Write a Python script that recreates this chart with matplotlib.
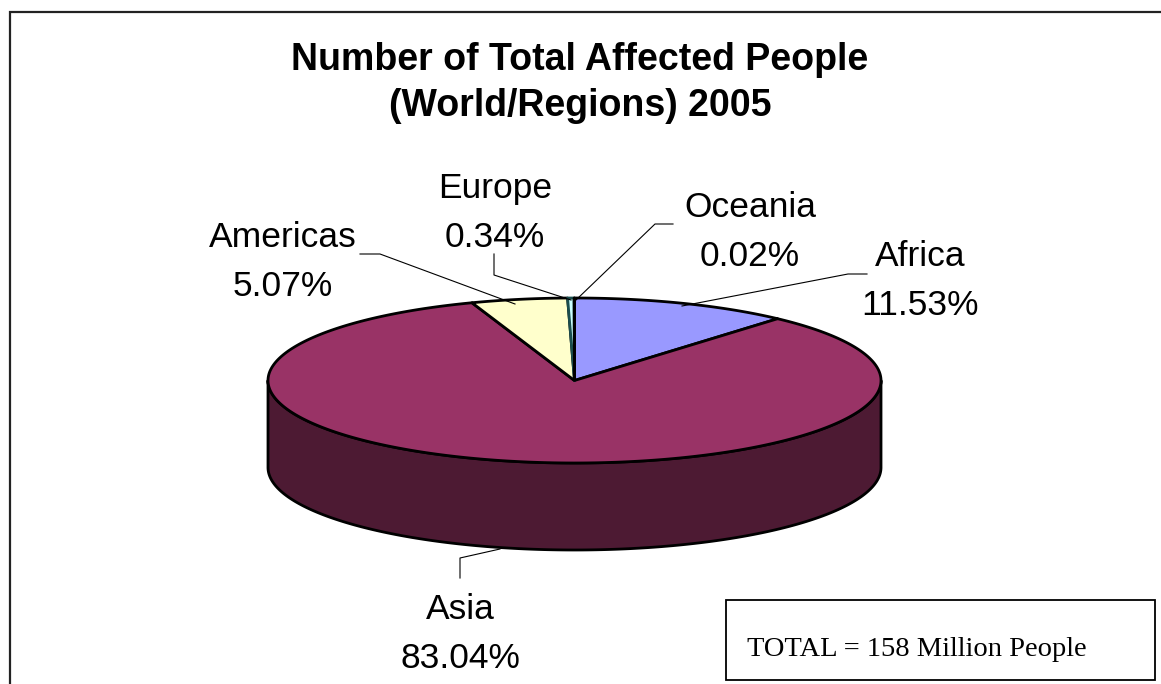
import numpy as np
import matplotlib.pyplot as plt
from matplotlib.patches import Polygon, Rectangle

# 2005 affected people by region, share of world total (%)
regions = ['Africa', 'Asia', 'Americas', 'Europe', 'Oceania']
shares = [11.53, 83.04, 5.07, 0.34, 0.02]
colors = ['#9999FF', '#993366', '#FFFFCC', '#CCFFFF', '#660066']
title = 'Number of Total Affected People\n(World/Regions) 2005'
total_text = 'TOTAL = 158 Million People'

W, H = 1161, 684
fig = plt.figure(figsize=(W / 100, H / 100), dpi=100)
ax = fig.add_axes([0, 0, 1, 1])
ax.set_xlim(0, W)
ax.set_ylim(H, 0)
ax.axis('off')

# pie geometry (pixel space, y pointing down)
cx, cy = 574.5, 380.5
a, b = 306.5, 82.5
depth = 87


def rim(t):
    # t in degrees, clockwise from 12 o'clock
    r = np.radians(t)
    return cx + a * np.sin(r), cy - b * np.cos(r)


def darker(c, f=0.5):
    rgb = np.array(plt.matplotlib.colors.to_rgb(c))
    return tuple(rgb * f)


edges = np.concatenate([[0], np.cumsum(shares)]) / sum(shares) * 360

# side wall, only the front half (90..270 deg) shows
for i in range(len(regions)):
    t0, t1 = max(edges[i], 90), min(edges[i + 1], 270)
    if t1 <= t0:
        continue
    t = np.linspace(t0, t1, 200)
    x, y = rim(t)
    pts = np.vstack([np.column_stack([x, y]),
                     np.column_stack([x[::-1], y[::-1] + depth])])
    ax.add_patch(Polygon(pts, closed=True, facecolor=darker(colors[i]),
                         edgecolor='black', lw=2.0, joinstyle='round', zorder=1))

# top face wedges
for i in range(len(regions)):
    t = np.linspace(edges[i], edges[i + 1], max(int((edges[i + 1] - edges[i]) * 3), 2))
    x, y = rim(t)
    pts = np.vstack([[cx, cy], np.column_stack([x, y])])
    ec = '#1a4d4d' if regions[i] == 'Europe' else 'black'
    ax.add_patch(Polygon(pts, closed=True, facecolor=colors[i],
                         edgecolor=ec, lw=2.0, joinstyle='round', zorder=2))

# labels with leader lines
lbl_font = dict(family=['Liberation Sans', 'DejaVu Sans'], fontsize=25.5,
                ha='center', va='center', linespacing=1.58)
label_pos = {'Africa': (920, 281), 'Asia': (460, 634), 'Americas': (283, 262),
             'Europe': (495, 213), 'Oceania': (750, 232)}
leaders = {'Africa': [(867, 274), (848, 274), (682, 306)],
           'Asia': [(460, 578), (460, 558), (500, 549)],
           'Americas': [(360, 254), (380, 254), (515, 304)],
           'Europe': [(494, 254), (494, 275), (571, 300)],
           'Oceania': [(673, 224), (655, 224), (576, 300)]}
for name, s in zip(regions, shares):
    x, y = label_pos[name]
    ax.text(x, y, f'{name}\n{s:.2f}%', zorder=5, **lbl_font)
    lx, ly = zip(*leaders[name])
    ax.plot(lx, ly, color='black', lw=0.8, zorder=4)

ax.text(580, 83, title, ha='center', va='center', fontsize=27,
        family=['Liberation Sans', 'DejaVu Sans'],
        fontweight='bold', linespacing=1.38)

# total box
ax.add_patch(Rectangle((726, 600), 429, 80, facecolor='white',
                       edgecolor='black', lw=1.3, zorder=3))
ax.text(747, 649, total_text, ha='left', va='center', fontsize=20.5,
        family=['Liberation Serif', 'DejaVu Serif'], zorder=4)

# chart border (runs off the right and bottom)
ax.plot([9.5, 9.5, W + 5], [H + 5, 12, 12], color='#222222', lw=1.6,
        solid_joinstyle='miter', zorder=6)

fig.savefig('out.png', dpi=100)
